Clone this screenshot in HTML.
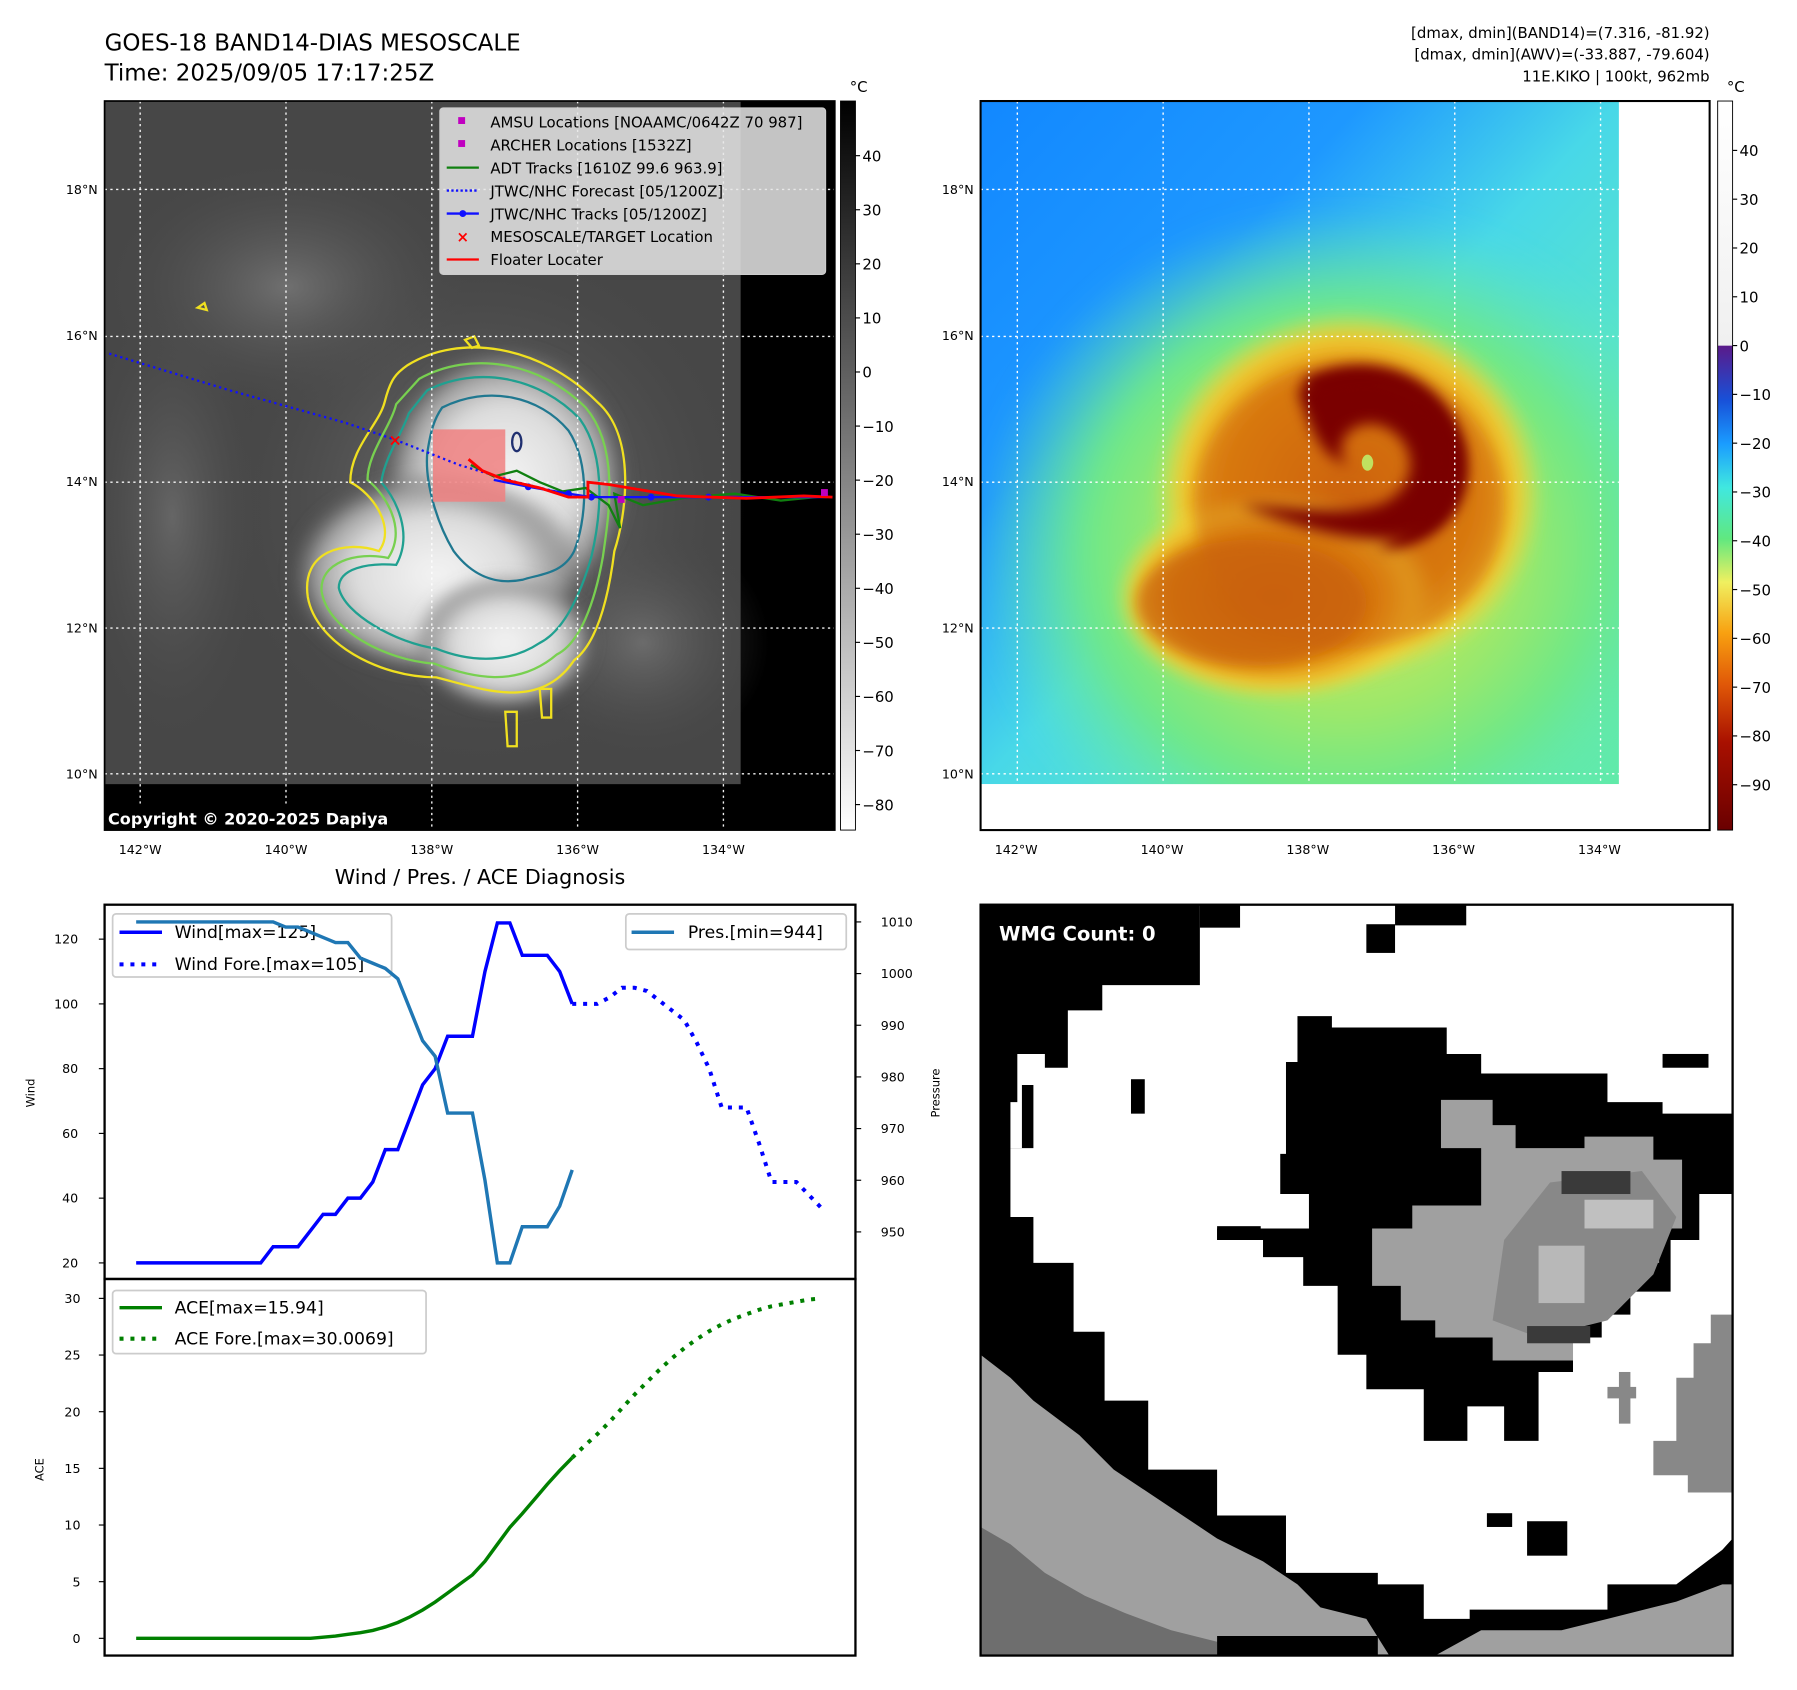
<!DOCTYPE html>
<html><head><meta charset="utf-8">
<style>
html,body{margin:0;padding:0;background:#fff;}
svg{display:block;font-family:"DejaVu Sans","Liberation Sans",sans-serif;}
</style></head>
<body>
<svg id="root" width="1797" height="1690" viewBox="0 0 1565 1472" xmlns="http://www.w3.org/2000/svg">
<defs>
  <radialGradient id="cloud" cx="0.5" cy="0.5" r="0.5">
    <stop offset="0" stop-color="#f4f4f4"/><stop offset="0.55" stop-color="#dcdcdc"/><stop offset="0.8" stop-color="#a0a0a0"/><stop offset="1" stop-color="#5a5a5a" stop-opacity="0"/>
  </radialGradient>
  <radialGradient id="haze" cx="0.5" cy="0.5" r="0.5">
    <stop offset="0" stop-color="#7a7a7a"/><stop offset="1" stop-color="#4a4a4a" stop-opacity="0"/>
  </radialGradient>
  <linearGradient id="bgBlue" x1="0" y1="0" x2="1" y2="1">
    <stop offset="0" stop-color="#1288ff"/><stop offset="0.3" stop-color="#1e98ff"/><stop offset="0.5" stop-color="#48d8e8"/><stop offset="0.75" stop-color="#5ee8c0"/><stop offset="1" stop-color="#60eaa8"/>
  </linearGradient>
  <radialGradient id="green" cx="0.5" cy="0.5" r="0.5">
    <stop offset="0" stop-color="#e0e060"/><stop offset="0.45" stop-color="#a0e868"/><stop offset="0.7" stop-color="#6ee888"/><stop offset="1" stop-color="#60e8b8" stop-opacity="0"/>
  </radialGradient>
  <radialGradient id="orange" cx="0.5" cy="0.5" r="0.5">
    <stop offset="0" stop-color="#c85a08"/><stop offset="0.65" stop-color="#e08a10"/><stop offset="0.85" stop-color="#f0c830"/><stop offset="1" stop-color="#f0e040" stop-opacity="0"/>
  </radialGradient>
  <linearGradient id="cbGray" x1="0" y1="0" x2="0" y2="1">
    <stop offset="0" stop-color="#000"/><stop offset="1" stop-color="#fff"/>
  </linearGradient>
  <linearGradient id="cbColor" x1="0" y1="0" x2="0" y2="1">
    <stop offset="0" stop-color="#ffffff"/><stop offset="0.335" stop-color="#f0f0f0"/>
    <stop offset="0.336" stop-color="#5a1a8a"/><stop offset="0.41" stop-color="#1850d8"/>
    <stop offset="0.47" stop-color="#1a9cff"/><stop offset="0.53" stop-color="#40e8e0"/>
    <stop offset="0.6" stop-color="#60e880"/><stop offset="0.66" stop-color="#f0f060"/>
    <stop offset="0.73" stop-color="#f8a010"/><stop offset="0.8" stop-color="#e05808"/>
    <stop offset="0.88" stop-color="#a81000"/><stop offset="1" stop-color="#6a0000"/>
  </linearGradient>
  <filter id="blur6"><feGaussianBlur stdDeviation="6"/></filter>
  <filter id="blur12"><feGaussianBlur stdDeviation="12"/></filter>
  <clipPath id="clipL"><rect x="91" y="88" width="636" height="635"/></clipPath>
  <clipPath id="clipR"><rect x="854" y="88" width="556" height="595"/></clipPath>
  <clipPath id="clipW"><rect x="854" y="788" width="655" height="654"/></clipPath>
</defs>

<!-- Titles -->
<text x="91" y="44" font-size="20">GOES-18 BAND14-DIAS MESOSCALE</text>
<text x="91" y="70" font-size="20">Time: 2025/09/05 17:17:25Z</text>
<text x="1489" y="33" font-size="13" text-anchor="end">[dmax, dmin](BAND14)=(7.316, -81.92)</text>
<text x="1489" y="52" font-size="13" text-anchor="end">[dmax, dmin](AWV)=(-33.887, -79.604)</text>
<text x="1489" y="71" font-size="13" text-anchor="end">11E.KIKO | 100kt, 962mb</text>

<!-- LEFT MAP -->
<g clip-path="url(#clipL)">
  <rect x="91" y="88" width="636" height="635" fill="#000"/>
  <rect x="91" y="88" width="554" height="595" fill="#474747"/>
  <ellipse cx="250" cy="250" rx="160" ry="110" fill="url(#haze)" opacity="0.8"/>
  <ellipse cx="150" cy="450" rx="80" ry="200" fill="url(#haze)" opacity="0.6"/>
  <ellipse cx="420" cy="440" rx="230" ry="230" fill="url(#haze)"/>
  <ellipse cx="560" cy="560" rx="110" ry="100" fill="url(#haze)" opacity="0.7"/>
  <ellipse cx="440" cy="420" rx="110" ry="120" fill="url(#cloud)" filter="url(#blur6)"/>
  <ellipse cx="380" cy="500" rx="130" ry="90" fill="url(#cloud)" filter="url(#blur6)"/>
  <ellipse cx="440" cy="560" rx="80" ry="60" fill="url(#cloud)" filter="url(#blur6)"/>
  <g fill="none" stroke-width="2">
    <path d="M355,318 C400,290 470,300 520,350 C555,380 545,450 535,480 C530,520 520,560 500,575 C470,620 420,600 380,590 C330,590 275,560 268,520 C262,480 300,470 330,480 C345,460 325,430 305,420 C305,390 330,370 335,350 C340,330 345,325 355,318Z" stroke="#f0e020"/>
    <path d="M365,330 C410,305 470,315 510,355 C540,390 530,450 525,485 C518,525 505,560 485,570 C450,600 410,590 378,578 C335,575 285,548 280,515 C278,490 310,480 338,486 C355,460 335,430 320,418 C320,395 340,372 345,352Z" stroke="#78d050"/>
    <path d="M372,340 C415,318 470,328 505,365 C530,400 522,455 515,485 C505,520 490,550 470,560 C440,580 405,575 380,565 C345,560 300,535 295,512 C295,495 320,490 345,492 C360,465 345,435 332,420 C335,398 350,378 356,360Z" stroke="#20a090"/>
    <path d="M385,355 C425,335 470,345 495,375 C515,405 510,455 500,480 C490,500 470,500 455,505 C430,510 410,500 395,480 C380,455 370,420 372,395 C375,375 378,365 385,355Z" stroke="#207890"/>
    <path d="M172,268 l6,-4 l2,6z M405,296 l8,-3 l4,8 l-6,2z M440,620 l10,0 l0,30 l-8,0z M470,600 l10,0 l0,25 l-8,0z" stroke="#f0e020"/>
    <ellipse cx="450" cy="385" rx="4" ry="8" stroke="#203070"/>
  </g>
  <g stroke="#fff" stroke-width="1.2" stroke-dasharray="2,3" opacity="0.95">
    <line x1="122" y1="88" x2="122" y2="723"/><line x1="249" y1="88" x2="249" y2="723"/><line x1="376" y1="88" x2="376" y2="723"/><line x1="503" y1="88" x2="503" y2="723"/><line x1="630" y1="88" x2="630" y2="723"/>
    <line x1="91" y1="165" x2="727" y2="165"/><line x1="91" y1="293" x2="727" y2="293"/><line x1="91" y1="420" x2="727" y2="420"/><line x1="91" y1="547" x2="727" y2="547"/><line x1="91" y1="674" x2="727" y2="674"/>
  </g>
  <rect x="377" y="374" width="63" height="63" fill="#f08080" opacity="0.85"/>
  <polyline points="95,308 200,340 300,368 344,383 400,405 450,420 500,432" fill="none" stroke="#1010ff" stroke-width="2" stroke-dasharray="2,3"/>
  <polyline points="410,405 430,415 450,410 470,420 490,428 510,425 530,440 540,460 535,430 560,440 600,433 640,430 680,436 720,432" fill="none" stroke="#108010" stroke-width="2"/>
  <polyline points="430,418 460,424 495,430 515,433 567,433 617,433 680,433 720,433" fill="none" stroke="#1010ff" stroke-width="2"/>
  <g fill="#1010ff"><circle cx="460" cy="424" r="3"/><circle cx="495" cy="430" r="3"/><circle cx="515" cy="433" r="3"/><circle cx="567" cy="433" r="3"/><circle cx="617" cy="433" r="3"/></g>
  <polyline points="408,400 420,410 440,418 470,425 495,433 512,433 512,420 530,422 560,427 590,432 650,434 700,432 725,433" fill="none" stroke="#ff0000" stroke-width="2.5"/>
  <text x="344" y="388" font-size="14" font-weight="bold" fill="#ff0000" text-anchor="middle">×</text>
  <rect x="715" y="426" width="6" height="6" fill="#c000c0"/><rect x="538" y="432" width="6" height="6" fill="#c000c0"/>
  <rect x="91" y="700" width="270" height="23" fill="#000"/>
  <text x="94" y="718" font-size="14" font-weight="bold" fill="#fff">Copyright © 2020-2025 Dapiya</text>
</g>
<rect x="91" y="88" width="636" height="635" fill="none" stroke="#000" stroke-width="1.5"/>

<!-- Legend -->
<g>
  <rect x="383" y="94" width="336" height="145" rx="3" fill="#e6e6e6" fill-opacity="0.85" stroke="#ccc"/>
  <g font-size="13">
    <rect x="399" y="102" width="6" height="6" fill="#c000c0"/><text x="427" y="111">AMSU Locations [NOAAMC/0642Z 70 987]</text>
    <rect x="399" y="122" width="6" height="6" fill="#c000c0"/><text x="427" y="131">ARCHER Locations [1532Z]</text>
    <line x1="389" y1="146" x2="417" y2="146" stroke="#108010" stroke-width="2"/><text x="427" y="151">ADT Tracks [1610Z 99.6 963.9]</text>
    <line x1="389" y1="166" x2="417" y2="166" stroke="#1010ff" stroke-width="2" stroke-dasharray="2,2"/><text x="427" y="171">JTWC/NHC Forecast [05/1200Z]</text>
    <line x1="389" y1="186" x2="417" y2="186" stroke="#1010ff" stroke-width="2"/><circle cx="403" cy="186" r="3" fill="#1010ff"/><text x="427" y="191">JTWC/NHC Tracks [05/1200Z]</text>
    <text x="403" y="211" fill="#ff0000" font-weight="bold" text-anchor="middle">×</text><text x="427" y="211">MESOSCALE/TARGET Location</text>
    <line x1="389" y1="226" x2="417" y2="226" stroke="#ff0000" stroke-width="2"/><text x="427" y="231">Floater Locater</text>
  </g>
</g>

<rect x="732" y="88" width="13" height="635" fill="url(#cbGray)" stroke="#000" stroke-width="0.8"/>
<text x="740" y="80" font-size="13">°C</text>
<g id="cbLticks" font-size="13"></g>

<!-- RIGHT MAP -->
<g>
  <rect x="854" y="88" width="635" height="635" fill="#fff"/>
  <g clip-path="url(#clipR)">
    <rect x="854" y="88" width="556" height="595" fill="url(#bgBlue)"/>
    <ellipse cx="1170" cy="480" rx="320" ry="300" fill="url(#green)" filter="url(#blur12)"/>
    <ellipse cx="1175" cy="430" rx="170" ry="160" fill="url(#orange)" filter="url(#blur6)"/>
    <ellipse cx="1110" cy="520" rx="140" ry="90" fill="url(#orange)" filter="url(#blur6)"/>
    <ellipse cx="1175" cy="440" rx="135" ry="125" fill="#d26a0a" opacity="0.55" filter="url(#blur6)"/>
    <ellipse cx="1090" cy="525" rx="100" ry="55" fill="#c8600a" opacity="0.7" filter="url(#blur6)"/>
    <path d="M1130,340 C1180,310 1250,330 1270,380 C1290,430 1260,470 1210,470 C1160,470 1120,455 1080,440 C1120,440 1160,450 1200,440 C1240,425 1235,380 1200,370 C1170,365 1160,395 1175,405 C1150,400 1140,370 1130,340Z" fill="#7a0000" filter="url(#blur6)"/>
    <path d="M1135,330 C1200,300 1260,330 1275,390 C1280,450 1240,480 1200,478 C1230,460 1255,430 1250,390 C1240,350 1200,335 1160,350 C1150,360 1140,345 1135,330Z" fill="#7a0000" filter="url(#blur6)"/>
    <ellipse cx="1191" cy="403" rx="5" ry="7" fill="#c0e060"/>
  </g>
  <g stroke="#fff" stroke-width="1.2" stroke-dasharray="2,3">
    <line x1="886" y1="88" x2="886" y2="683"/><line x1="1013" y1="88" x2="1013" y2="683"/><line x1="1140" y1="88" x2="1140" y2="683"/><line x1="1267" y1="88" x2="1267" y2="683"/><line x1="1394" y1="88" x2="1394" y2="683"/>
    <line x1="854" y1="165" x2="1410" y2="165"/><line x1="854" y1="293" x2="1410" y2="293"/><line x1="854" y1="420" x2="1410" y2="420"/><line x1="854" y1="547" x2="1410" y2="547"/><line x1="854" y1="674" x2="1410" y2="674"/>
  </g>
  <rect x="854" y="88" width="635" height="635" fill="none" stroke="#000" stroke-width="1.8"/>
</g>
<rect x="1496" y="88" width="13" height="635" fill="url(#cbColor)" stroke="#000" stroke-width="0.8"/>
<text x="1504" y="80" font-size="13">°C</text>
<g id="cbRticks" font-size="13"></g>

<g id="mapTicks" font-size="11"></g>

<text x="418" y="770" font-size="18" text-anchor="middle">Wind / Pres. / ACE Diagnosis</text>
<g id="windChart"></g>
<g id="aceChart"></g>

<!-- WMG panel -->
<g clip-path="url(#clipW)">
  <rect x="854" y="788" width="655" height="654" fill="#fff"/>
  <path d="M854,788 L1045,788 L1045,858 L960,858 L960,880 L930,880 L930,930 L900,930 L900,1000 L880,1000 L880,1060 L900,1060 L900,1100 L935,1100 L935,1160 L962,1160 L962,1220 L1000,1220 L1000,1280 L1060,1280 L1060,1320 L1120,1320 L1120,1370 L1200,1370 L1200,1380 L1240,1380 L1240,1410 L1280,1410 L1280,1402 L1400,1402 L1400,1380 L1460,1380 L1500,1350 L1509,1340 L1509,1442 L854,1442 Z" fill="#000"/>
  <path d="M854,1180 L880,1200 L900,1220 L940,1250 L970,1280 L1000,1300 L1030,1320 L1060,1340 L1100,1360 L1130,1380 L1150,1400 L1190,1410 L1210,1442 L854,1442Z" fill="#a0a0a0"/>
  <path d="M854,1330 L880,1345 L910,1370 L945,1390 L980,1405 L1020,1420 L1060,1430 L1060,1442 L854,1442Z" fill="#6e6e6e"/>
  <path d="M1250,1442 L1290,1420 L1360,1420 L1400,1410 L1460,1395 L1500,1380 L1509,1380 L1509,1442Z" fill="#a0a0a0"/>
  <path d="M1060,1442 L1200,1442 L1200,1425 L1060,1425Z" fill="#000"/>
  <path d="M1130,885 L1160,885 L1160,895 L1260,895 L1260,918 L1290,918 L1290,935 L1400,935 L1400,960 L1448,960 L1448,970 L1509,970 L1509,1040 L1480,1040 L1480,1080 L1455,1080 L1455,1125 L1420,1125 L1420,1145 L1395,1145 L1395,1165 L1370,1165 L1370,1195 L1340,1195 L1340,1255 L1310,1255 L1310,1225 L1278,1225 L1278,1255 L1240,1255 L1240,1210 L1190,1210 L1190,1180 L1165,1180 L1165,1120 L1135,1120 L1135,1095 L1100,1095 L1100,1080 L1060,1080 L1060,1070 L1140,1070 L1140,1040 L1115,1040 L1115,1005 L1120,1005 L1120,925 L1130,925Z" fill="#000"/>
  <path d="M1255,958 L1300,958 L1300,980 L1320,980 L1320,1000 L1380,1000 L1380,990 L1440,990 L1440,1010 L1465,1010 L1465,1070 L1445,1070 L1445,1100 L1425,1100 L1425,1120 L1395,1120 L1395,1150 L1370,1150 L1370,1185 L1300,1185 L1300,1165 L1250,1165 L1250,1150 L1220,1150 L1220,1120 L1195,1120 L1195,1070 L1230,1070 L1230,1050 L1290,1050 L1290,1000 L1255,1000Z" fill="#a0a0a0"/>
  <path d="M1350,1030 L1430,1020 L1460,1060 L1440,1110 L1400,1150 L1340,1165 L1300,1150 L1310,1080Z" fill="#888"/>
  <rect x="1360" y="1020" width="60" height="20" fill="#3a3a3a"/><rect x="1380" y="1045" width="60" height="25" fill="#c0c0c0"/>
  <rect x="1330" y="1155" width="55" height="15" fill="#3a3a3a"/><rect x="1340" y="1085" width="40" height="50" fill="#b8b8b8"/>
  <path d="M1490,1145 L1509,1145 L1509,1300 L1470,1300 L1470,1285 L1440,1285 L1440,1255 L1460,1255 L1460,1200 L1475,1200 L1475,1170 L1490,1170Z" fill="#888"/>
  <rect x="1400" y="1208" width="25" height="10" fill="#888"/><rect x="1410" y="1195" width="10" height="45" fill="#888"/>
  <rect x="1045" y="788" width="35" height="20" fill="#000"/><rect x="1215" y="788" width="62" height="18" fill="#000"/><rect x="1190" y="805" width="25" height="25" fill="#000"/>
  <rect x="1448" y="918" width="40" height="12" fill="#000"/><rect x="985" y="940" width="12" height="30" fill="#000"/>
  <rect x="1060" y="1068" width="38" height="12" fill="#000"/><rect x="1295" y="1318" width="22" height="12" fill="#000"/><rect x="1330" y="1325" width="35" height="30" fill="#000"/>
  <path d="M886,918 L910,918 L910,945 L890,945 L890,1000 L880,1000 L880,960 L886,960Z" fill="#fff"/>
  <text x="870" y="819" font-size="17" font-weight="bold" fill="#fff">WMG Count: 0</text>
</g>
<rect x="854" y="788" width="655" height="654" fill="none" stroke="#000" stroke-width="2"/>

<script>
var windObs = [20,20,20,20,20,20,20,20,20,20,20,25,25,25,30,35,35,40,40,45,55,55,65,75,80,90,90,90,110,125,125,115,115,115,110,100];
var windFore = [100,100,100,102,105,105,104,101,98,95,88,80,68,68,68,57,45,45,45,41,37];
var presObs = [1010,1010,1010,1010,1010,1010,1010,1010,1010,1010,1010,1010,1009,1009,1008,1007,1006,1006,1003,1002,1001,999,993,987,984,973,973,973,960,944,944,951,951,951,955,962];
var aceObs = [0,0,0,0,0,0,0,0,0,0,0,0,0,0,0,0.1,0.2,0.35,0.5,0.7,1.0,1.4,1.9,2.5,3.2,4.0,4.8,5.6,6.8,8.3,9.8,11.0,12.3,13.6,14.8,15.94];
var aceFore = [15.94,17,18,19.1,20.3,21.5,22.6,23.7,24.7,25.6,26.4,27.1,27.7,28.2,28.6,29.0,29.3,29.5,29.7,29.9,30.0];
var windTicks = [20,40,60,80,100,120];
var presTicks = [950,960,970,980,990,1000,1010];
var aceTicks = [0,5,10,15,20,25,30];
var grayCbTicks = [40,30,20,10,0,-10,-20,-30,-40,-50,-60,-70,-80];
var colorCbTicks = [40,30,20,10,0,-10,-20,-30,-40,-50,-60,-70,-80,-90];
var latTicks = ['18°N','16°N','14°N','12°N','10°N'];
var lonTicks = ['142°W','140°W','138°W','136°W','134°W'];

var NS='http://www.w3.org/2000/svg';
function mk(tag, attrs, parent){var e=document.createElementNS(NS,tag);for(var k in attrs)e.setAttribute(k,attrs[k]);parent.appendChild(e);return e;}
function xIdx(i){return 118.5+10.85*i;}
function yWind(v){return 1100-(v-20)*2.82;}
function yPres(v){return 1073-(v-950)*4.5;}
function yAce(v){return 1427-v*9.87;}
function pts(arr,off,yf){return arr.map(function(v,i){return xIdx(i+off).toFixed(1)+','+yf(v).toFixed(1);}).join(' ');}

var wc=document.getElementById('windChart');
var ax=mk('rect',{x:91,y:788,width:654,height:326,fill:'#fff',stroke:'#000','stroke-width':2},wc);


windTicks.forEach(function(t){
  var y=yWind(t);mk('line',{x1:86,x2:91,y1:y,y2:y,stroke:'#000'},wc);
  var tx=mk('text',{x:68,y:y+4,'font-size':11,'text-anchor':'end'},wc);tx.textContent=t;
  
  
});
presTicks.forEach(function(t){
  var y=yPres(t);mk('line',{x1:745,x2:750,y1:y,y2:y,stroke:'#000'},wc);
  var tx=mk('text',{x:767,y:y+4,'font-size':11},wc);tx.textContent=t;
  
  
});
var yl=mk('text',{x:30,y:952,'font-size':10,'text-anchor':'middle',transform:'rotate(-90 30 952)'},wc);yl.textContent='Wind';


var pl=mk('text',{x:818,y:952,'font-size':10,'text-anchor':'middle',transform:'rotate(-90 818 952)'},wc);pl.textContent='Pressure';


var wl=mk('polyline',{points:pts(windObs,0,yWind),fill:'none',stroke:'#0000ff','stroke-width':3},wc);


var wf=mk('polyline',{points:pts(windFore,35,yWind),fill:'none',stroke:'#0000ff','stroke-width':3.5,'stroke-dasharray':'3.5,6'},wc);


var lg=mk('g',{},wc);


mk('rect',{x:98,y:796,width:243,height:55,rx:3,fill:'#fff','fill-opacity':0.8,stroke:'#ccc','stroke-width':1.5},lg);
mk('line',{x1:104,x2:141,y1:812,y2:812,stroke:'#0000ff','stroke-width':3},lg);
mk('line',{x1:104,x2:141,y1:840,y2:840,stroke:'#0000ff','stroke-width':3.5,'stroke-dasharray':'3.5,6'},lg);
var t1=mk('text',{x:152,y:817,'font-size':15},lg);t1.textContent='Wind[max=125]';
var t2=mk('text',{x:152,y:845,'font-size':15},lg);t2.textContent='Wind Fore.[max=105]';
var pline=mk('polyline',{points:pts(presObs,0,yPres),fill:'none',stroke:'#1f77b4','stroke-width':3},wc);


var lp=mk('g',{},wc);


mk('rect',{x:545,y:796,width:192,height:31,rx:3,fill:'#fff','fill-opacity':0.8,stroke:'#ccc','stroke-width':1.5},lp);
mk('line',{x1:550,x2:587,y1:812,y2:812,stroke:'#1f77b4','stroke-width':3},lp);
var t3=mk('text',{x:599,y:817,'font-size':15},lp);t3.textContent='Pres.[min=944]';

var ac=document.getElementById('aceChart');
var ax2=mk('rect',{x:91,y:1114,width:654,height:328,fill:'none',stroke:'#000','stroke-width':2},ac);


aceTicks.forEach(function(t){
  var y=yAce(t);mk('line',{x1:86,x2:91,y1:y,y2:y,stroke:'#000'},ac);
  var tx=mk('text',{x:70,y:y+4,'font-size':11,'text-anchor':'end'},ac);tx.textContent=t;
  
  
});
var al=mk('text',{x:38,y:1280,'font-size':10,'text-anchor':'middle',transform:'rotate(-90 38 1280)'},ac);al.textContent='ACE';


var ao=mk('polyline',{points:pts(aceObs,0,yAce),fill:'none',stroke:'#008000','stroke-width':3},ac);


var af=mk('polyline',{points:pts(aceFore,35,yAce),fill:'none',stroke:'#008000','stroke-width':3.5,'stroke-dasharray':'3.5,6'},ac);


var la=mk('g',{},ac);


mk('rect',{x:98,y:1124,width:273,height:55,rx:3,fill:'#fff','fill-opacity':0.8,stroke:'#ccc','stroke-width':1.5},la);
mk('line',{x1:104,x2:141,y1:1139,y2:1139,stroke:'#008000','stroke-width':3},la);
mk('line',{x1:104,x2:141,y1:1166,y2:1166,stroke:'#008000','stroke-width':3.5,'stroke-dasharray':'3.5,6'},la);
var t4=mk('text',{x:152,y:1144,'font-size':15},la);t4.textContent='ACE[max=15.94]';
var t5=mk('text',{x:152,y:1171,'font-size':15},la);t5.textContent='ACE Fore.[max=30.0069]';

var cl=document.getElementById('cbLticks');
grayCbTicks.forEach(function(t){
  var y=324-t*4.71;mk('line',{x1:745,x2:749,y1:y,y2:y,stroke:'#000'},cl);
  var tx=mk('text',{x:751,y:y+5},cl);tx.textContent=(t<0?'\u2212'+(-t):t);
  
  
});
var cr=document.getElementById('cbRticks');
colorCbTicks.forEach(function(t){
  var y=301-t*4.25;mk('line',{x1:1509,x2:1513,y1:y,y2:y,stroke:'#000'},cr);
  var tx=mk('text',{x:1515,y:y+5},cr);tx.textContent=(t<0?'\u2212'+(-t):t);
  
  
});
var mt=document.getElementById('mapTicks');
[91,854].forEach(function(x0){
  latTicks.forEach(function(s,i){
    var y=165+i*127.25;var tx=mk('text',{x:x0-6,y:y+4,'text-anchor':'end'},mt);tx.textContent=s;
    
    
  });
  lonTicks.forEach(function(s,i){
    var x=x0+31+i*127;var tx=mk('text',{x:x,y:744,'text-anchor':'middle'},mt);tx.textContent=s;
    
    
  });
});
</script>
</svg>
</body></html>
